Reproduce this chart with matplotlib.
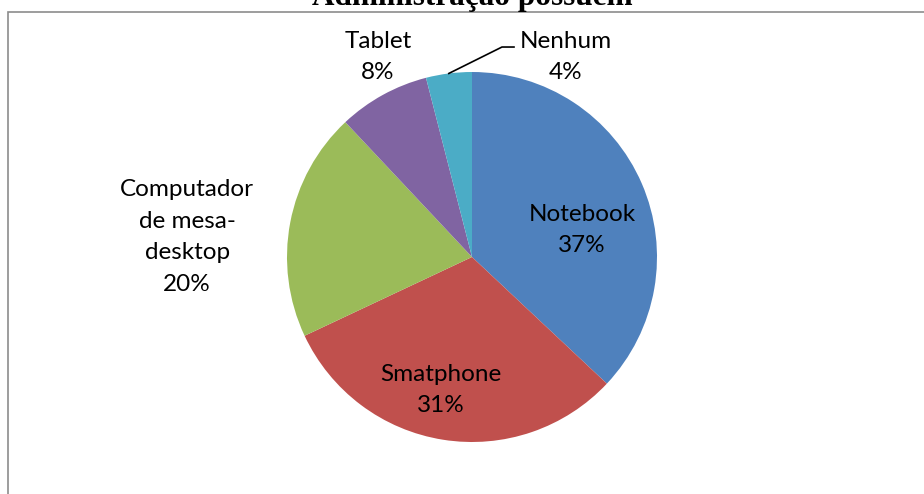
import numpy as np
import matplotlib.pyplot as plt
from matplotlib.patches import Rectangle

# dados do grafico
categorias = ["Notebook", "Smatphone", "Computador\nde mesa-\ndesktop", "Tablet", "Nenhum"]
valores = [37, 31, 20, 8, 4]
cores = ["#4F81BD", "#C0504D", "#9BBB59", "#8064A2", "#4BACC6"]
titulo = "Administração possuem"

# posicao dos rotulos (coordenadas do eixo, raio = 1)
pos_rotulos = [(0.595, 0.146), (-0.168, -0.719), (-1.54, 0.108), (-0.508, 1.081), (0.508, 1.081)]

plt.rcParams['font.family'] = ['Lato', 'DejaVu Sans']

fig = plt.figure(figsize=(9.24, 4.94), dpi=100)

# moldura do grafico (cortada na imagem)
fig.patches.append(Rectangle((8 / 924, -0.1), 1.2, 1 - 12 / 494 + 0.1, transform=fig.transFigure,
                             fill=False, edgecolor="#8c8c8c", linewidth=1.2))

# titulo cortado no topo
fig.text(472 / 924, 1 - 5 / 494, titulo, ha="center", va="baseline",
         family="Liberation Serif", weight="bold", fontsize=22.5)

cx, cy, r = 472, 257, 185
ax = fig.add_axes([(cx - r) / 924, (494 - cy - r) / 494, 2 * r / 924, 2 * r / 494])
wedges, _ = ax.pie(valores, colors=cores, startangle=90, counterclock=False, radius=1,
                   wedgeprops=dict(linewidth=0))
ax.set_xlim(-1, 1)
ax.set_ylim(-1, 1)
ax.set_aspect("equal")
ax.axis("off")

for cat, v, (x, y) in zip(categorias, valores, pos_rotulos):
    ax.text(x, y, f"{cat}\n{v}%", ha="center", va="center", fontsize=17.5,
            linespacing=1.62, color="black", clip_on=False)

# linha de chamada para "Nenhum"
w = wedges[-1]
ang = np.deg2rad((w.theta1 + w.theta2) / 2)
x0, y0 = np.cos(ang), np.sin(ang)
ax.plot([x0, 0.162, 0.227], [y0, 1.135, 1.135], color="black", linewidth=1.2, clip_on=False)

fig.savefig("out.png", dpi=100)
